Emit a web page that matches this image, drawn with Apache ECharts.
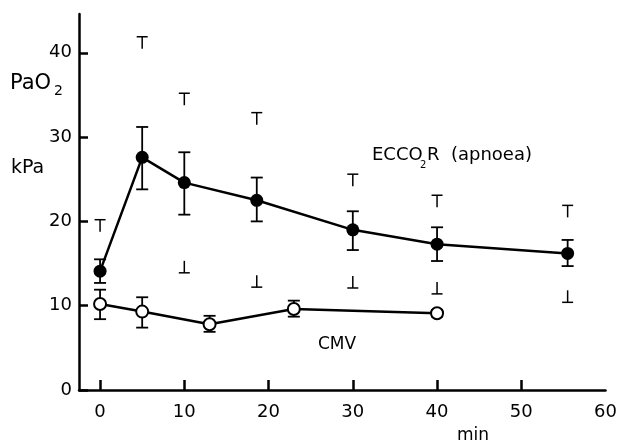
<!DOCTYPE html>
<html>
<head>
<meta charset="utf-8">
<script src="https://cdn.jsdelivr.net/npm/echarts@6/dist/echarts.min.js"></script>
<style>html,body{margin:0;padding:0;background:#fff}#c{width:620px;height:445px}</style>
</head>
<body>
<div id="c"></div>
<script>
// ECCO2R (apnoea) – filled circles
var eccoTime   = [0, 5, 10, 18.6, 30, 40, 55.5];
var eccoMean   = [14.1, 27.6, 24.6, 22.5, 19.0, 17.3, 16.2];
var eccoSemHi  = [15.5, 31.2, 28.2, 25.2, 21.2, 19.3, 17.8];
var eccoSemLo  = [12.7, 23.8, 20.8, 20.0, 16.6, 15.3, 14.7];
var eccoRangeHi = [20.2, 41.9, 35.2, 32.9, 25.6, 23.1, 21.9];
var eccoRangeLo = [null, null, 13.9, 12.2, 12.1, 11.4, 10.4];
// CMV – open circles
var cmvTime  = [0, 5, 13, 23, 40];
var cmvMean  = [10.2, 9.3, 7.8, 9.6, 9.1];
var cmvSemHi = [11.9, 11.0, 8.8, 10.6, 9.5];
var cmvSemLo = [8.4, 7.4, 6.9, 8.7, 8.7];
// axes
var xTickValues  = [0, 10, 20, 30, 40, 50];
var xLabelValues = [0, 10, 20, 30, 40, 50, 60];
var yTickValues  = [0, 10, 20, 30, 40];

function zip2(a, b) { return a.map(function (v, i) { return [v, b[i]]; }); }
function zip3(a, b, c) { return a.map(function (v, i) { return [v, b[i], c[i]]; }); }
function zipNN(a, b) { var r = []; a.forEach(function (v, i) { if (b[i] != null) r.push([v, b[i]]); }); return r; }

var FONT = 'DejaVu Sans';
var K = '#000';

function semRender(params, api) {
  var x = api.value(0), lo = api.value(1), hi = api.value(2);
  var a = api.coord([x, lo]), b = api.coord([x, hi]);
  var w = 6, st = { stroke: K, lineWidth: 1.8 };
  return { type: 'group', children: [
    { type: 'line', shape: { x1: a[0], y1: a[1], x2: b[0], y2: b[1] }, style: st },
    { type: 'line', shape: { x1: b[0] - w, y1: b[1], x2: b[0] + w, y2: b[1] }, style: st },
    { type: 'line', shape: { x1: a[0] - w, y1: a[1], x2: a[0] + w, y2: a[1] }, style: st }
  ]};
}
function rangeRender(dir) {
  return function (params, api) {
    var p = api.coord([api.value(0), api.value(1)]);
    var w = 5.5, h = 12, st = { stroke: K, lineWidth: 1.5 };
    return { type: 'group', children: [
      { type: 'line', shape: { x1: p[0] - w, y1: p[1], x2: p[0] + w, y2: p[1] }, style: st },
      { type: 'line', shape: { x1: p[0], y1: p[1], x2: p[0], y2: p[1] + dir * h }, style: st }
    ]};
  };
}

var chart = echarts.init(document.getElementById('c'), null, { renderer: 'canvas' });
chart.setOption({
  animation: false,
  backgroundColor: '#fff',
  grid: { left: 79, right: 13, top: 14, bottom: 55, containLabel: false },
  xAxis: {
    type: 'value', min: -2.5, max: 60,
    axisLine: { onZero: false, lineStyle: { color: K, width: 2.5 } },
    axisTick: { inside: true, length: 10, lineStyle: { color: K, width: 2.5 }, customValues: xTickValues },
    axisLabel: { color: K, fontFamily: FONT, fontSize: 18, margin: 13, customValues: xLabelValues },
    splitLine: { show: false }
  },
  yAxis: {
    type: 'value', min: 0, max: 44.6,
    axisLine: { onZero: false, lineStyle: { color: K, width: 2.5 } },
    axisTick: { inside: true, length: 9, lineStyle: { color: K, width: 2.5 }, customValues: yTickValues },
    axisLabel: { color: K, fontFamily: FONT, fontSize: 18, margin: 7, customValues: yTickValues },
    splitLine: { show: false }
  },
  series: [
    { type: 'custom', name: 'eccoRangeHi', renderItem: rangeRender(1), data: zipNN(eccoTime, eccoRangeHi), encode: { x: 0, y: 1 }, z: 1 },
    { type: 'custom', name: 'eccoRangeLo', renderItem: rangeRender(-1), data: zipNN(eccoTime, eccoRangeLo), encode: { x: 0, y: 1 }, z: 1 },
    { type: 'custom', name: 'eccoSem', renderItem: semRender, data: zip3(eccoTime, eccoSemLo, eccoSemHi), encode: { x: 0, y: [1, 2] }, z: 1 },
    { type: 'custom', name: 'cmvSem', renderItem: semRender, data: zip3(cmvTime, cmvSemLo, cmvSemHi), encode: { x: 0, y: [1, 2] }, z: 1 },
    { type: 'line', name: 'ECCO2R', data: zip2(eccoTime, eccoMean), z: 3,
      lineStyle: { color: K, width: 2.5 }, symbol: 'circle', symbolSize: 13,
      itemStyle: { color: K, borderColor: K, borderWidth: 0 } },
    { type: 'line', name: 'CMV', data: zip2(cmvTime, cmvMean), z: 3,
      lineStyle: { color: K, width: 2.5 }, symbol: 'circle', symbolSize: 12,
      itemStyle: { color: '#fff', borderColor: K, borderWidth: 2 } }
  ],
  graphic: [
    { type: 'text', left: 10, top: 73, style: { text: 'PaO', font: '21px "' + FONT + '"', fill: K } },
    { type: 'text', left: 54, top: 84, style: { text: '2', font: '14px "' + FONT + '"', fill: K } },
    { type: 'text', left: 11, top: 159, style: { text: 'kPa', font: '19px "' + FONT + '"', fill: K } },
    { type: 'text', left: 372, top: 146, style: { text: 'ECCO', font: '18px "' + FONT + '"', fill: K } },
    { type: 'text', left: 420, top: 160, style: { text: '2', font: '10px "' + FONT + '"', fill: K } },
    { type: 'text', left: 427, top: 146, style: { text: 'R  (apnoea)', font: '18px "' + FONT + '"', fill: K } },
    { type: 'text', left: 318, top: 336, style: { text: 'CMV', font: '17px "' + FONT + '"', fill: K } },
    { type: 'text', left: 457, top: 427, style: { text: 'min', font: '17px "' + FONT + '"', fill: K } }
  ]
});
</script>
</body>
</html>
